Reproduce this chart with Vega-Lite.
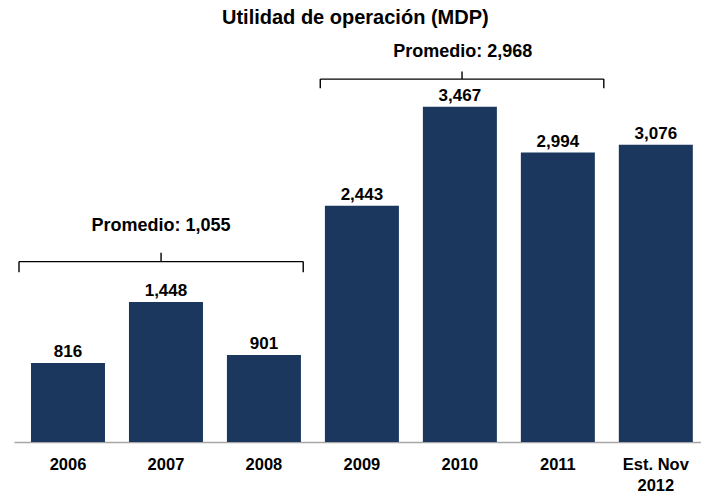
{
  "$schema": "https://vega.github.io/schema/vega-lite/v6.json",
  "width": 687,
  "height": 406,
  "autosize": {"type": "none"},
  "padding": {"left": 14, "top": 36, "right": 0, "bottom": 55},
  "background": "white",
  "config": {"view": {"stroke": null}, "font": "Liberation Sans"},
  "title": {"text": "Utilidad de operación (MDP)", "font": "Liberation Sans", "fontSize": 20, "fontWeight": "bold", "color": "#000000", "anchor": "start", "dx": 208, "offset": 8},
  "datasets": {
    "bars": [
      {"i": 0, "label": "2006", "value": 816},
      {"i": 1, "label": "2007", "value": 1448},
      {"i": 2, "label": "2008", "value": 901},
      {"i": 3, "label": "2009", "value": 2443},
      {"i": 4, "label": "2010", "value": 3467},
      {"i": 5, "label": "2011", "value": 2994},
      {"i": 6, "label": "Est. Nov\n2012", "value": 3076}
    ],
    "segments": [
      {"x1": -0.5, "x2": 2.401, "y1": 1866, "y2": 1866},
      {"x1": -0.5, "x2": -0.5, "y1": 1866, "y2": 1756},
      {"x1": 2.401, "x2": 2.401, "y1": 1866, "y2": 1756},
      {"x1": 0.95, "x2": 0.95, "y1": 1866, "y2": 1959},
      {"x1": 2.575, "x2": 5.469, "y1": 3754, "y2": 3754},
      {"x1": 2.575, "x2": 2.575, "y1": 3754, "y2": 3660},
      {"x1": 5.469, "x2": 5.469, "y1": 3754, "y2": 3660},
      {"x1": 4.022, "x2": 4.022, "y1": 3754, "y2": 3832}
    ],
    "notes": [
      {"x": 0.95, "y": 2235, "text": "Promedio: 1,055"},
      {"x": 4.03, "y": 4036, "text": "Promedio: 2,968"}
    ]
  },
  "layer": [
    {
      "data": {"name": "bars"},
      "mark": {"type": "bar", "size": 74, "color": "#1b375e"},
      "encoding": {
        "x": {"field": "i", "type": "quantitative", "scale": {"domain": [-0.5, 6.41], "nice": false, "zero": false},
              "axis": {"title": null, "labels": false, "ticks": false, "grid": false, "domain": true, "domainColor": "#a6a6a6", "domainWidth": 1.5}},
        "y": {"field": "value", "type": "quantitative", "scale": {"domain": [0, 4200], "nice": false}, "axis": null}
      }
    },
    {
      "data": {"name": "bars"},
      "mark": {"type": "text", "font": "Liberation Sans", "fontWeight": "bold", "fontSize": 17, "baseline": "alphabetic", "dy": -6, "color": "#000000"},
      "encoding": {
        "x": {"field": "i", "type": "quantitative"},
        "y": {"field": "value", "type": "quantitative"},
        "text": {"field": "value", "type": "quantitative", "format": ",.0f"}
      }
    },
    {
      "data": {"name": "bars"},
      "mark": {"type": "text", "font": "Liberation Sans", "fontWeight": "bold", "fontSize": 16.5, "baseline": "top", "dy": 15, "lineBreak": "\n", "lineHeight": 21, "color": "#000000"},
      "encoding": {
        "x": {"field": "i", "type": "quantitative"},
        "y": {"datum": 0, "type": "quantitative"},
        "text": {"field": "label"}
      }
    },
    {
      "data": {"name": "segments"},
      "mark": {"type": "rule", "color": "#000000", "strokeWidth": 1.4},
      "encoding": {
        "x": {"field": "x1", "type": "quantitative"},
        "x2": {"field": "x2"},
        "y": {"field": "y1", "type": "quantitative"},
        "y2": {"field": "y2"}
      }
    },
    {
      "data": {"name": "notes"},
      "mark": {"type": "text", "font": "Liberation Sans", "fontWeight": "bold", "fontSize": 18, "baseline": "middle", "color": "#000000"},
      "encoding": {
        "x": {"field": "x", "type": "quantitative"},
        "y": {"field": "y", "type": "quantitative"},
        "text": {"field": "text"}
      }
    }
  ]
}
